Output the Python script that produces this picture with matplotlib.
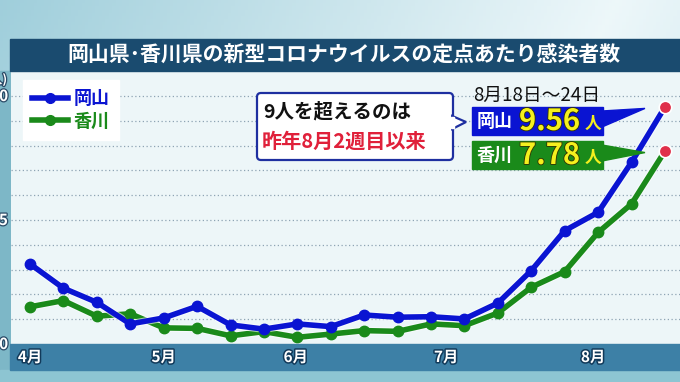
import numpy as np
import matplotlib
matplotlib.use("Agg")
import matplotlib.pyplot as plt
import matplotlib.patheffects as pe
from matplotlib.patches import Rectangle, FancyBboxPatch, Polygon
from matplotlib.lines import Line2D

plt.rcParams['font.family'] = ['Noto Sans CJK JP', 'DejaVu Sans']

# ---------------- data ----------------
title = "岡山県･香川県の新型コロナウイルスの定点あたり感染者数"
okayama = [3.23, 2.25, 1.68, 0.81, 1.05, 1.52, 0.77, 0.60, 0.81, 0.70,
           1.17, 1.08, 1.10, 1.01, 1.65, 2.96, 4.57, 5.31, 7.33, 9.56]
kagawa = [1.50, 1.75, 1.12, 1.22, 0.65, 0.63, 0.33, 0.50, 0.27, 0.40,
          0.54, 0.51, 0.81, 0.74, 1.25, 2.29, 2.92, 4.50, 5.65, 7.78]
series_names = ["岡山", "香川"]
month_labels = ["4月", "5月", "6月", "7月", "8月"]
month_ticks = [0, 4, 7.95, 12.45, 16.85]
y_ticks = [0, 5, 10]
period_label = "8月18日～24日"
note_line1 = "9人を超えるのは"
note_line2 = "昨年8月2週目以来"
unit = "人"

BLUE = "#0a14d2"
GREEN = "#1a8a1a"
RED = "#e0304a"

W, H = 680, 382
fig = plt.figure(figsize=(W / 100, H / 100), dpi=100)

# ---------------- background ----------------
bg = fig.add_axes([0, 0, 1, 1])
bg.set_xlim(0, W)
bg.set_ylim(H, 0)
bg.axis('off')
gx = np.linspace(0, 1, 200)
gy = np.linspace(0, 1, 120)
GX, GY = np.meshgrid(gx, gy)
light = np.array([0.93, 0.97, 0.98])
dark = np.array([0.55, 0.77, 0.83])
t = np.clip(0.55 * GX + 0.15 * GY, 0, 1)
t = np.abs(t - 0.5) * 1.6
img = light[None, None, :] * (1 - t[..., None]) + dark[None, None, :] * t[..., None]
bg.imshow(img, extent=[0, W, H, 0], aspect='auto', zorder=0)
bg.add_patch(Rectangle((0, 71), 11, 300, color="#7db7c7", zorder=1))
bg.add_patch(Rectangle((0, 370), W, 12, color="#8dc5d2", zorder=1))

# ---------------- main plot ----------------
x0_px, x1_px = 11, 680
top_px, bot_px = 71, 344
ax = fig.add_axes([x0_px / W, 1 - bot_px / H, (x1_px - x0_px) / W, (bot_px - top_px) / H])
ax.set_facecolor("#edf6f8")
xs = np.arange(len(okayama))
px_per_idx = 33.42
ax.set_xlim(-(30 - x0_px) / px_per_idx, (x1_px - 30) / px_per_idx)
px_per_unit = 24.8
ax.set_ylim(0, (bot_px - top_px) / px_per_unit)
for s in ax.spines.values():
    s.set_visible(False)
ax.set_xticks([])
ax.set_yticks([])
for v in range(1, 11):
    ax.axhline(v, color="#8ea4b4", lw=0.9, ls=(0, (1, 2)), zorder=1)

stroke = [pe.Stroke(linewidth=5.5, foreground="white", alpha=0.6), pe.Normal()]
n = len(okayama)
for vals, col in ((kagawa, GREEN), (okayama, BLUE)):
    ax.plot(xs, vals, color=col, lw=4, solid_capstyle='round',
            solid_joinstyle='round', zorder=3, clip_on=False, path_effects=stroke)
    ax.plot(xs[:-1], vals[:-1], ls='none', marker='o', ms=7.5, color=col,
            zorder=3.5, clip_on=False)
    ax.plot(xs[-1], vals[-1], marker='o', ms=9, color=RED, mec="white",
            mew=1.2, zorder=4, clip_on=False)

# legend
handles = [Line2D([], [], color=BLUE, lw=4, marker='o', ms=7),
           Line2D([], [], color=GREEN, lw=4, marker='o', ms=7)]
leg = fig.legend(handles, series_names, loc='upper left',
                 bbox_to_anchor=(23 / W, 1 - 80 / H), frameon=True,
                 prop={'weight': 'bold', 'size': 13}, handlelength=2.0,
                 handletextpad=0.3, labelspacing=0.2, borderpad=0.5,
                 borderaxespad=0, fancybox=False, edgecolor="white",
                 framealpha=1)
for txt, col in zip(leg.get_texts(), (BLUE, GREEN)):
    txt.set_color(col)
leg.set_zorder(10)

# ---------------- overlay (pixel coordinates) ----------------
ov = fig.add_axes([0, 0, 1, 1])
ov.set_xlim(0, W)
ov.set_ylim(H, 0)
ov.axis('off')
ov.patch.set_alpha(0)

# title bar
ov.add_patch(Rectangle((10, 39), W - 10, 32, color="#1a4b6f", zorder=2))
ov.text(344, 55, title, color="white", fontsize=15, fontweight='bold',
        ha='center', va='center', zorder=3)

# bottom bar with month labels
ov.add_patch(Rectangle((10, 344), W - 10, 26, color="#3d80a6", zorder=2))
month_px = ax.transData.transform(np.column_stack([month_ticks, np.zeros(len(month_ticks))]))
month_px = ov.transData.inverted().transform(month_px)
for (mx, _), lab in zip(month_px, month_labels):
    ov.text(mx, 357, lab, color="white", fontsize=11, fontweight='bold',
            ha='center', va='center', zorder=3,
            path_effects=[pe.withStroke(linewidth=2.2, foreground="#123a5a")])

# y labels (cut off at the left edge, as in the reference)
ypx = ax.transData.transform(np.column_stack([np.zeros(len(y_ticks)), y_ticks]))
ypx = ov.transData.inverted().transform(ypx)
for (_, yy), lab in zip(ypx, y_ticks):
    ov.text(8, yy, str(lab), color="white", fontsize=11, fontweight='bold',
            ha='right', va='center', zorder=3,
            path_effects=[pe.withStroke(linewidth=1.8, foreground="#2a4a66")])
ov.text(7, 80, "(" + unit + ")", color="white", fontsize=9, fontweight='bold',
        ha='right', va='center', zorder=3,
        path_effects=[pe.withStroke(linewidth=1.8, foreground="#2a4a66")])

# note callout
ov.add_patch(FancyBboxPatch((257, 93), 196, 67, boxstyle="round,pad=0,rounding_size=4",
                            fc="white", ec="#1e2fa0", lw=1.6, zorder=5))
ov.add_patch(Polygon([[452.2, 116], [466, 122], [452.2, 129]], closed=True,
                     fc="white", ec="#1e2fa0", lw=1.6, zorder=5, joinstyle='miter'))
ov.add_patch(Rectangle((451, 117.3), 2.5, 10.5, color="white", zorder=6))
ov.text(263, 112, note_line1, color="#111111", fontsize=14, fontweight='bold',
        ha='left', va='center', zorder=7)
ov.text(262, 141, note_line2, color="#e0203a", fontsize=14.5, fontweight='bold',
        ha='left', va='center', zorder=7)

# period label
ov.text(473, 95, period_label, color="#111111", fontsize=13.5, ha='left',
        va='center', zorder=7)

# value boxes with pointers toward end points
end_px = ax.transData.transform([[xs[-1], okayama[-1]], [xs[-1], kagawa[-1]]])
end_px = ov.transData.inverted().transform(end_px)
boxes = [(okayama[-1], BLUE, 107, series_names[0], end_px[0]),
         (kagawa[-1], GREEN, 141, series_names[1], end_px[1])]
for val, col, by, name, (ex, ey) in boxes:
    ov.add_patch(Rectangle((472, by), 131, 28, color=col, zorder=5))
    tip = (ex - 20, ey + 1.5)
    ov.add_patch(Polygon([[602, by + 4], tip, [602, by + 20]], closed=True,
                         color=col, zorder=5))
    ov.text(477, by + 14.5, name, color="white", fontsize=13, fontweight='bold',
            ha='left', va='center', zorder=7)
    ov.text(519, by + 14, f"{val:.2f}", color="#f4f01e", fontsize=21,
            fontweight='bold', ha='left', va='center', zorder=7,
            path_effects=[pe.withStroke(linewidth=1.2, foreground="#333300")])
    ov.text(585, by + 17, unit, color="#f4f01e", fontsize=12, fontweight='bold',
            ha='left', va='center', zorder=7)

fig.savefig("out.png", dpi=100)
